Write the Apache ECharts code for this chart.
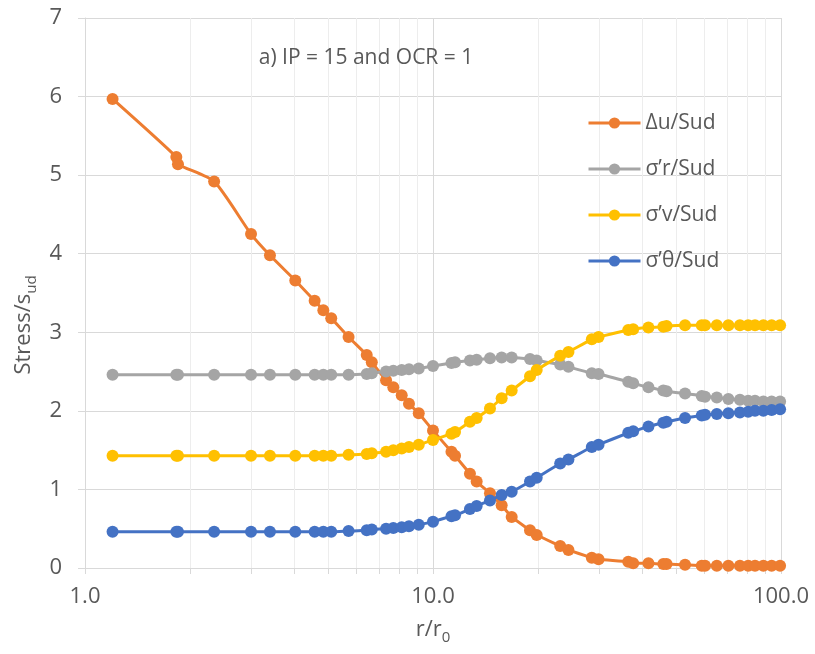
<!DOCTYPE html>
<html><head><meta charset="utf-8">
<script src="https://cdn.jsdelivr.net/npm/echarts@6/dist/echarts.min.js"></script>
<style>html,body{margin:0;padding:0;background:#fff}#c{width:815px;height:654px}</style>
</head><body><div id="c"></div>
<script>
// ---- data ----
const rRatio = [1.2, 1.83, 1.85, 2.35, 3.0, 3.4, 4.02, 4.57, 4.84, 5.1, 5.72, 6.45, 6.67, 7.33, 7.69, 8.13, 8.53, 9.1, 10.0, 11.3, 11.57, 12.77, 13.35, 14.58, 15.75, 16.83, 19.0, 19.86, 23.2, 24.5, 28.6, 29.9, 36.4, 37.6, 41.6, 45.9, 46.9, 53.0, 59.2, 60.5, 65.4, 70.6, 76.2, 80.5, 84.2, 89.0, 94.0, 99.4];
const duSud = [5.97, 5.23, 5.14, 4.92, 4.25, 3.98, 3.66, 3.40, 3.28, 3.18, 2.94, 2.71, 2.62, 2.39, 2.30, 2.20, 2.09, 1.97, 1.75, 1.48, 1.43, 1.20, 1.10, 0.95, 0.80, 0.65, 0.48, 0.42, 0.28, 0.23, 0.13, 0.11, 0.08, 0.06, 0.06, 0.05, 0.05, 0.04, 0.03, 0.03, 0.03, 0.03, 0.03, 0.03, 0.03, 0.03, 0.03, 0.03];
const sigRSud = [2.46, 2.46, 2.46, 2.46, 2.46, 2.46, 2.46, 2.46, 2.46, 2.46, 2.46, 2.47, 2.48, 2.50, 2.51, 2.52, 2.53, 2.54, 2.57, 2.61, 2.62, 2.64, 2.65, 2.67, 2.68, 2.68, 2.66, 2.64, 2.59, 2.56, 2.48, 2.47, 2.37, 2.35, 2.30, 2.26, 2.25, 2.22, 2.19, 2.18, 2.17, 2.15, 2.14, 2.13, 2.13, 2.12, 2.12, 2.12];
const sigVSud = [1.43, 1.43, 1.43, 1.43, 1.43, 1.43, 1.43, 1.43, 1.43, 1.43, 1.44, 1.45, 1.46, 1.48, 1.50, 1.52, 1.54, 1.57, 1.63, 1.71, 1.73, 1.86, 1.91, 2.03, 2.16, 2.26, 2.44, 2.52, 2.70, 2.75, 2.91, 2.94, 3.03, 3.04, 3.06, 3.07, 3.08, 3.09, 3.09, 3.09, 3.09, 3.09, 3.09, 3.09, 3.09, 3.09, 3.09, 3.09];
const sigTSud = [0.46, 0.46, 0.46, 0.46, 0.46, 0.46, 0.46, 0.46, 0.46, 0.46, 0.47, 0.48, 0.49, 0.50, 0.51, 0.52, 0.53, 0.55, 0.59, 0.66, 0.67, 0.75, 0.79, 0.86, 0.93, 0.97, 1.10, 1.15, 1.33, 1.38, 1.54, 1.57, 1.72, 1.74, 1.80, 1.85, 1.86, 1.91, 1.94, 1.95, 1.96, 1.97, 1.98, 1.99, 2.00, 2.00, 2.01, 2.02];
const seriesNames = ['Δu/Sud', 'σ’r/Sud', 'σ’v/Sud', 'σ’θ/Sud'];
const xTickValues = [1, 2, 3, 4, 5, 6, 7, 8, 9, 10, 20, 30, 40, 50, 60, 70, 80, 90, 100];
const xLabelValues = [1, 10, 100];
const titleText = 'a) IP = 15 and OCR = 1';

// ---- chart ----
const FONT = '"Open Sans", sans-serif';
const TXT = '#595959';
const GRID_C = '#D9D9D9';
const MINOR_C = '#EDEDED';
const colors = ['#ED7D31', '#A5A5A5', '#FFC000', '#4472C4'];
const values = [duSud, sigRSud, sigVSud, sigTSud];

const chart = echarts.init(document.getElementById('c'), null, {renderer: 'canvas'});
const series = values.map((arr, k) => ({
  name: seriesNames[k],
  type: 'line',
  data: rRatio.map((x, i) => [x, arr[i]]),
  smooth: 0.2,
  symbol: 'circle',
  symbolSize: 12,
  showAllSymbol: true,
  lineStyle: {color: colors[k], width: 3},
  itemStyle: {color: colors[k]},
  emphasis: {disabled: true}
}));

const splitColors = [GRID_C, MINOR_C, MINOR_C, MINOR_C, MINOR_C, MINOR_C, MINOR_C, MINOR_C, MINOR_C];

chart.setOption({
  animation: false,
  color: colors,
  textStyle: {fontFamily: FONT},
  grid: {left: 85, right: 34, top: 18, bottom: 86},
  legend: {
    orient: 'vertical', left: 587, top: 112, padding: 0,
    itemWidth: 52, itemHeight: 14, itemGap: 24,
    data: seriesNames,
    lineStyle: {width: 3},
    textStyle: {color: TXT, fontSize: 21, lineHeight: 22, fontFamily: FONT}
  },
  xAxis: {
    type: 'log', logBase: 10, min: 1, max: 100,
    axisLine: {show: true, lineStyle: {color: GRID_C, width: 1}},
    axisTick: {show: true, length: 6, customValues: xTickValues, lineStyle: {color: GRID_C}},
    axisLabel: {customValues: xLabelValues, formatter: v => Number(v).toFixed(1), color: TXT, fontSize: 22, margin: 18, fontFamily: FONT},
    splitLine: {show: true, lineStyle: {color: splitColors, width: 1}}
  },
  yAxis: {
    type: 'value', min: 0, max: 7, interval: 1,
    axisLine: {show: true, lineStyle: {color: GRID_C, width: 1}},
    axisTick: {show: true, length: 7, lineStyle: {color: GRID_C}},
    axisLabel: {color: TXT, fontSize: 22, margin: 23, fontFamily: FONT},
    splitLine: {show: true, lineStyle: {color: GRID_C, width: 1}}
  },
  graphic: [
    {type: 'text', x: 366, y: 58, z: 100, zlevel: 0, style: {text: titleText, fill: TXT, font: '21px ' + FONT, align: 'center', verticalAlign: 'middle'}},
    {type: 'text', x: 433, y: 630, z: 100, style: {
      text: '{a|r/r}{b|0}', align: 'center', verticalAlign: 'middle',
      rich: {
        a: {fontSize: 22, fontFamily: FONT, fill: TXT, lineHeight: 30, verticalAlign: 'middle'},
        b: {fontSize: 15, fontFamily: FONT, fill: TXT, lineHeight: 30, verticalAlign: 'bottom'}
      }}},
    {type: 'text', x: 24, y: 325, z: 100, rotation: Math.PI / 2, style: {
      text: '{a|Stress/s}{b|ud}', align: 'center', verticalAlign: 'middle',
      rich: {
        a: {fontSize: 22, fontFamily: FONT, fill: TXT, lineHeight: 30, verticalAlign: 'middle'},
        b: {fontSize: 15, fontFamily: FONT, fill: TXT, lineHeight: 30, verticalAlign: 'bottom'}
      }}}
  ],
  series: series
});
</script>
</body></html>
